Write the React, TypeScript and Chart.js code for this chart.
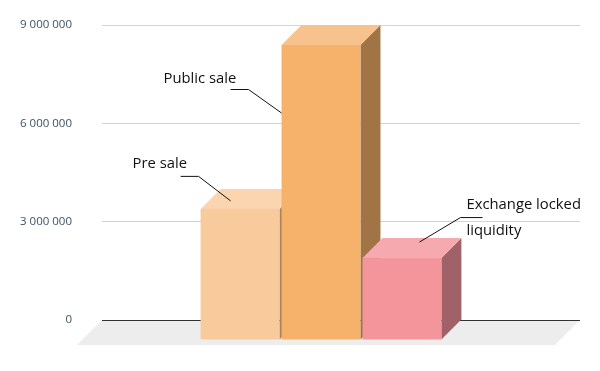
import React, { useEffect, useRef } from "react";
import { Chart, registerables } from "chart.js";

Chart.register(...registerables);

const categories = [""];
const seriesNames = ["Pre sale", "Public sale", "Exchange locked liquidity"];
const preSale = [4000000];
const publicSale = [9000000];
const exchangeLocked = [2500000];
const yTicks = [0, 3000000, 6000000, 9000000];

const frontColors = ["#f8ca9c", "#f6b26b", "#f4959b"];
const topColors = ["#fad5b0", "#f7c28b", "#f6a9ae"];
const sideColors = ["#a8845f", "#a07444", "#a06268"];

const DEPTH = 20;
const FONT = "'Open Sans', Lato, sans-serif";

const fmt = (v: number) => String(v).replace(/\B(?=(\d{3})+(?!\d))/g, " ");

const threeD = {
  id: "threeD",
  beforeDraw(chart: any) {
    const { ctx, chartArea } = chart;
    const y0 = chart.scales.y.getPixelForValue(0);
    const f = 25;
    ctx.save();
    ctx.fillStyle = "#ededed";
    ctx.beginPath();
    ctx.moveTo(chartArea.left, y0);
    ctx.lineTo(chartArea.right, y0);
    ctx.lineTo(chartArea.right - f, y0 + f);
    ctx.lineTo(chartArea.left - f, y0 + f);
    ctx.closePath();
    ctx.fill();
    ctx.restore();
  },
  afterDatasetsDraw(chart: any) {
    const { ctx } = chart;
    const d = DEPTH;
    const rects: any[] = [];
    chart.data.datasets.forEach((ds: any, i: number) => {
      const meta = chart.getDatasetMeta(i);
      meta.data.forEach((el: any) => {
        const p = el.getProps(["x", "y", "base", "width"], true);
        const L = p.x - p.width / 2;
        const R = p.x + p.width / 2;
        const T = p.y;
        const B = p.base;
        rects.push({ L, R, T, B, i });
        ctx.save();
        ctx.fillStyle = sideColors[i];
        ctx.beginPath();
        ctx.moveTo(R - d, T + d);
        ctx.lineTo(R, T);
        ctx.lineTo(R, B);
        ctx.lineTo(R - d, B + d);
        ctx.closePath();
        ctx.fill();
        ctx.fillStyle = topColors[i];
        ctx.beginPath();
        ctx.moveTo(L - d, T + d);
        ctx.lineTo(L, T);
        ctx.lineTo(R, T);
        ctx.lineTo(R - d, T + d);
        ctx.closePath();
        ctx.fill();
        ctx.fillStyle = frontColors[i];
        ctx.fillRect(L - d, T + d, R - L, B - T);
        ctx.restore();
      });
    });

    ctx.save();
    ctx.strokeStyle = "#111";
    ctx.lineWidth = 1;
    ctx.fillStyle = "#111";
    ctx.font = `14.8px ${FONT}`;
    ctx.textBaseline = "middle";
    const line = (pts: number[][]) => {
      ctx.beginPath();
      ctx.moveTo(pts[0][0], pts[0][1]);
      for (let k = 1; k < pts.length; k++) ctx.lineTo(pts[k][0], pts[k][1]);
      ctx.stroke();
    };
    rects.forEach((r) => {
      const { L, T, i } = r;
      if (i === 0) {
        line([[L - 40, T - 12.5], [L - 22, T - 12.5], [L + 10, T + 12]]);
        ctx.textAlign = "left";
        ctx.fillText("Pre sale", L - 88, T - 25);
      } else if (i === 1) {
        line([[L - 71, T + 64.5], [L - 53, T + 64.5], [L - 20, T + 88]]);
        ctx.textAlign = "left";
        ctx.fillText("Public sale", L - 138, T + 54);
      } else {
        line([[L + 37, T + 4], [L + 78, T - 20.5], [L + 100, T - 20.5]]);
        ctx.textAlign = "left";
        ctx.fillText("Exchange locked", L + 84, T - 33);
        ctx.fillText("liquidity", L + 84, T - 7);
      }
    });
    ctx.restore();
  },
};

export default function App() {
  const ref = useRef<HTMLCanvasElement | null>(null);
  useEffect(() => {
    if (!ref.current) return;
    const values = [preSale, publicSale, exchangeLocked];
    const chart = new Chart(ref.current, {
      type: "bar",
      data: {
        labels: categories,
        datasets: seriesNames.map((name, i) => ({
          label: name,
          data: values[i],
          backgroundColor: "rgba(0,0,0,0)",
          borderWidth: 0,
          categoryPercentage: 0.508,
          barPercentage: 0.975,
        })),
      },
      options: {
        responsive: false,
        animation: false,
        events: [],
        layout: { padding: { left: 0, right: 20, top: 25, bottom: 51 } },
        plugins: { legend: { display: false }, tooltip: { enabled: false } },
        scales: {
          x: { display: false },
          y: {
            min: 0,
            max: 9000000,
            afterBuildTicks: (s: any) => {
              s.ticks = yTicks.map((v) => ({ value: v }));
            },
            afterFit: (s: any) => {
              s.width = 102;
            },
            border: { display: false },
            grid: {
              drawTicks: true,
              tickLength: 30,
              tickColor: "rgba(0,0,0,0)",
              color: (c: any) => (c.tick && c.tick.value === 0 ? "#333333" : "#d4d4d4"),
              lineWidth: 1,
            },
            ticks: {
              padding: 0,
              color: "#3e5163",
              font: { family: FONT, size: 11.5 },
              callback: (v: any) => fmt(Number(v)),
            },
          },
        },
      },
      plugins: [threeD],
    });
    return () => chart.destroy();
  }, []);
  return (
    <div style={{ position: "fixed", left: 0, top: 0, width: 600, height: 371, background: "#fff" }}>
      <canvas ref={ref} width={600} height={371} style={{ width: 600, height: 371 }} />
    </div>
  );
}
